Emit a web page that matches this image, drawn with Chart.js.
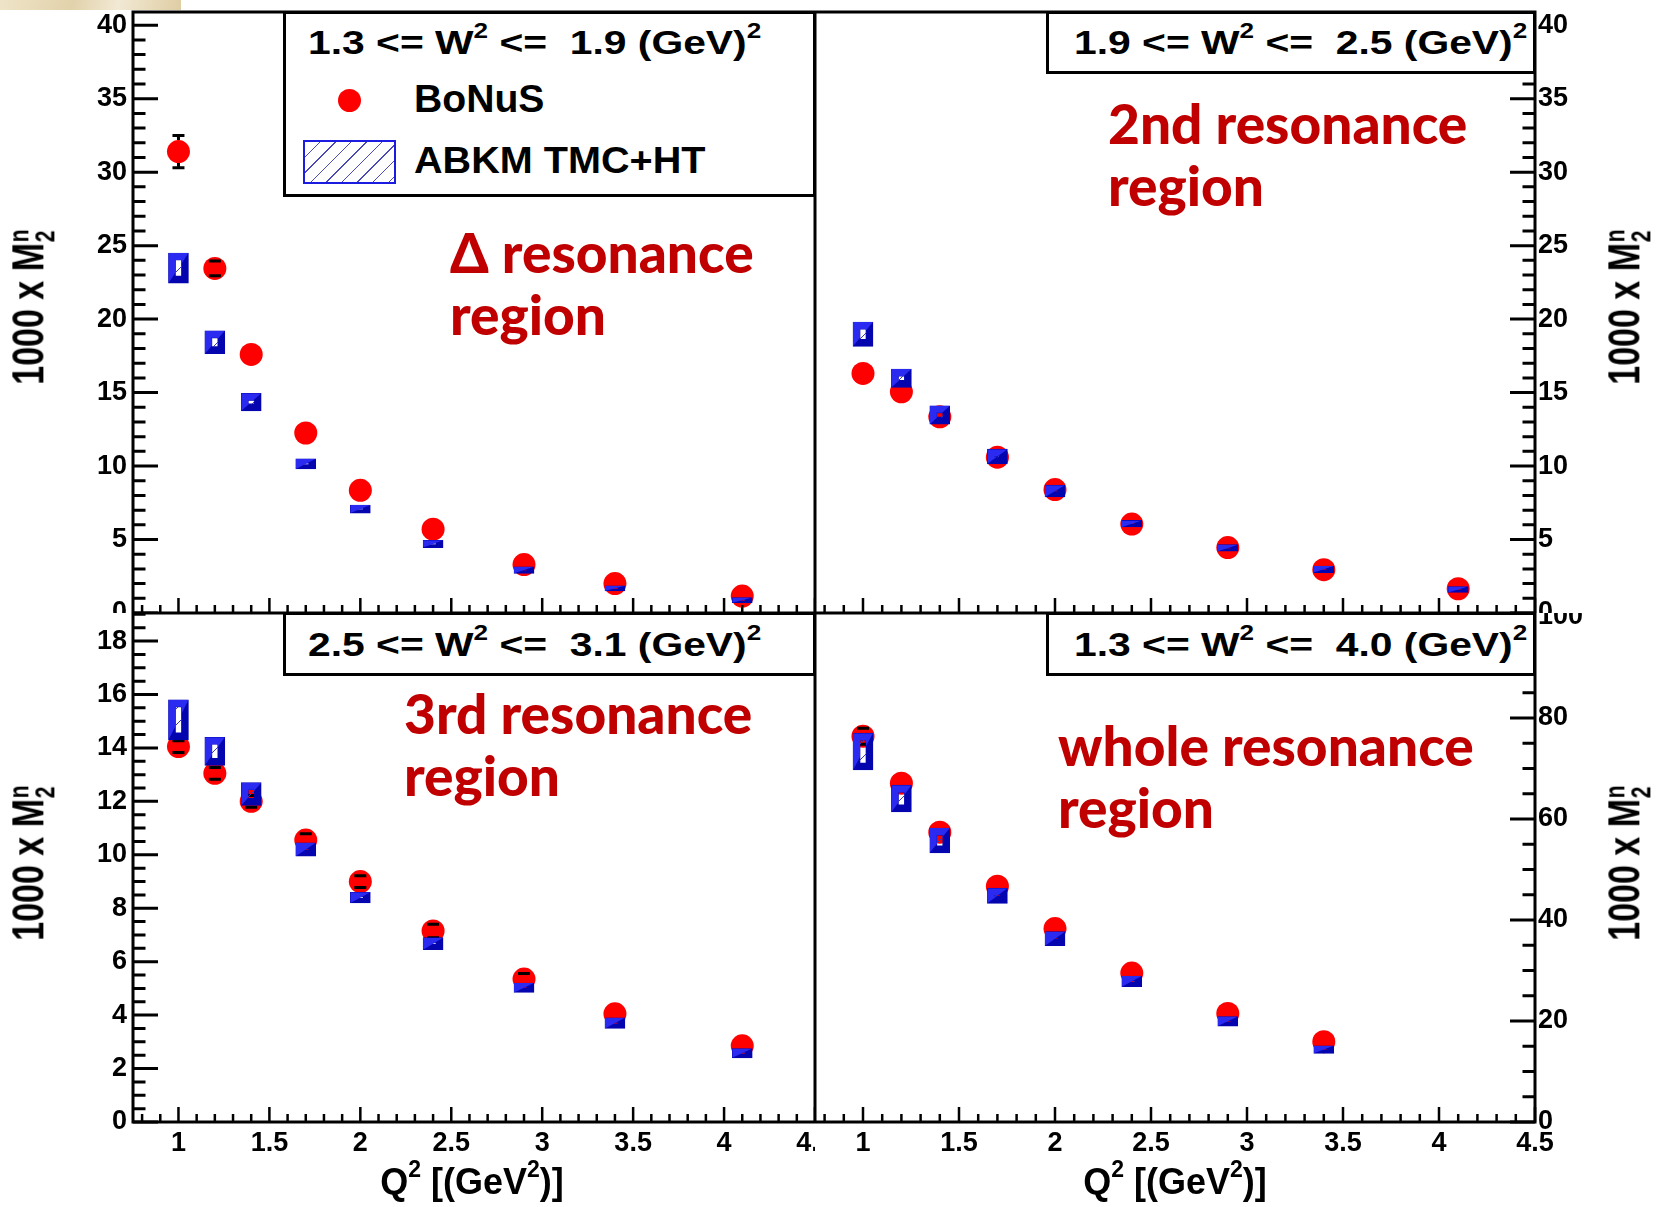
<!DOCTYPE html>
<html>
<head>
<meta charset="utf-8">
<title>BoNuS neutron M2 moments vs Q2</title>
<script src="https://cdn.jsdelivr.net/npm/chart.js@4.4.1/dist/chart.umd.min.js"></script>
<style>
  html, body { margin: 0; padding: 0; background: #fff; }
  #page { position: relative; width: 1659px; height: 1207px; overflow: hidden; background: #fff; }
  canvas { position: absolute; }
  .deco { position: absolute; left: 0; top: 0; width: 181px; height: 10px;
          background: linear-gradient(100deg, #efe4c8 0%, #e2d2ab 40%, #f2e9d4 65%, #dfcda3 100%); }
  .pave { position: absolute; box-sizing: border-box; border: 3px solid #000; background: #fff; }
  .root { position: absolute; font-family: "Liberation Sans", Arial, sans-serif; font-weight: bold;
          color: #000; white-space: pre; line-height: 1; transform-origin: 0 0; }
  .root sup { font-size: 0.64em; vertical-align: 0.72em; line-height: 0; }
  .region { position: absolute; font-family: Lato, "Open Sans", sans-serif; font-weight: 900;
            color: #c00000; font-size: 55px; line-height: 62px; white-space: pre; }
  .ytitle { position: absolute; font-family: "Liberation Sans", Arial, sans-serif; font-weight: bold;
            font-size: 34px; line-height: 1; white-space: pre; color: #000;
            transform: translate(-50%, -50%) rotate(-90deg) scaleY(1.3); }
  .subsup { display: inline-block; font-size: 0.62em; line-height: 0.95; vertical-align: -0.38em; margin-left: 0.04em; }
  .subsup span { display: block; }
  .xtitle { transform: translateX(-50%); font-size: 36px; }
  .mark { position: absolute; width: 23px; height: 23px; border-radius: 50%; background: #ff0000; }
  .band { position: absolute; box-sizing: border-box; border: 2px solid #1c1ce0; background-color: #fff;
          background-image: repeating-linear-gradient(135deg, transparent 0 10px, #4a4ab4 10px 11px); }
</style>
</head>
<body>
<div id="page">
  <div class="deco"></div>

  <canvas id="padDelta" width="815" height="613" style="left:0;top:0"></canvas>
  <canvas id="padSecond" width="844" height="613" style="left:815px;top:0"></canvas>
  <canvas id="padThird" width="815" height="594" style="left:0;top:613px"></canvas>
  <canvas id="padWhole" width="844" height="594" style="left:815px;top:613px"></canvas>

  <!-- W^2 range boxes and legend -->
  <div class="pave" style="left:283px;top:11px;width:533px;height:186px"></div>
  <div class="pave" style="left:1046px;top:11px;width:490px;height:63px"></div>
  <div class="pave" style="left:283px;top:612px;width:533px;height:64px"></div>
  <div class="pave" style="left:1046px;top:612px;width:490px;height:64px"></div>

  <div class="root" style="left:308px;top:25px;font-size:34px;transform:scaleX(1.2)">1.3 &lt;= W<sup>2</sup> &lt;=  1.9 (GeV)<sup>2</sup></div>
  <div class="root" style="left:1074px;top:25px;font-size:34px;transform:scaleX(1.2)">1.9 &lt;= W<sup>2</sup> &lt;=  2.5 (GeV)<sup>2</sup></div>
  <div class="root" style="left:308px;top:627px;font-size:34px;transform:scaleX(1.2)">2.5 &lt;= W<sup>2</sup> &lt;=  3.1 (GeV)<sup>2</sup></div>
  <div class="root" style="left:1074px;top:627px;font-size:34px;transform:scaleX(1.2)">1.3 &lt;= W<sup>2</sup> &lt;=  4.0 (GeV)<sup>2</sup></div>

  <div class="mark" style="left:338px;top:89px"></div>
  <div class="root" style="left:414px;top:80px;font-size:38px;transform:scaleX(1.03)">BoNuS</div>
  <div class="band" style="left:303px;top:140px;width:93px;height:44px"></div>
  <div class="root" style="left:414px;top:143px;font-size:36px;transform:scaleX(1.1)">ABKM TMC+HT</div>

  <!-- resonance region labels -->
  <div class="region" style="left:450px;top:221px">&#916; resonance<br>region</div>
  <div class="region" style="left:1108px;top:92px">2nd resonance<br>region</div>
  <div class="region" style="left:404px;top:682px">3rd resonance<br>region</div>
  <div class="region" style="left:1058px;top:714px">whole resonance<br>region</div>

  <!-- axis titles -->
  <div class="ytitle" style="left:32px;top:307px">1000 x M<span class="subsup"><span>n</span><span>2</span></span></div>
  <div class="ytitle" style="left:1628px;top:307px">1000 x M<span class="subsup"><span>n</span><span>2</span></span></div>
  <div class="ytitle" style="left:32px;top:863px">1000 x M<span class="subsup"><span>n</span><span>2</span></span></div>
  <div class="ytitle" style="left:1628px;top:863px">1000 x M<span class="subsup"><span>n</span><span>2</span></span></div>
  <div class="root xtitle" style="left:472px;top:1164px">Q<sup>2</sup> [(GeV<sup>2</sup>)]</div>
  <div class="root xtitle" style="left:1175px;top:1164px">Q<sup>2</sup> [(GeV<sup>2</sup>)]</div>
</div>

<script>
// Q^2 bin centres, GeV^2
const q2Bins = [1.0, 1.2, 1.4, 1.7, 2.0, 2.4, 2.9, 3.4, 4.1];
const q2BinsWhole = [1.0, 1.2, 1.4, 1.7, 2.0, 2.4, 2.9, 3.4];

// 1000 x M2n, Delta region (1.3 <= W2 <= 1.9)
const bonusDelta = [31.4, 23.45, 17.6, 12.25, 8.35, 5.7, 3.3, 2.0, 1.15];
const bonusDeltaErr = [1.1, 0.5, 0, 0, 0, 0, 0, 0, 0];
const abkmDeltaLow = [22.45, 17.65, 13.75, 9.8, 6.8, 4.45, 2.7, 1.5, 0.7];
const abkmDeltaHigh = [24.5, 19.2, 14.95, 10.5, 7.35, 4.95, 3.15, 1.85, 1.05];

// 2nd resonance region (1.9 <= W2 <= 2.5)
const bonusSecond = [16.3, 15.05, 13.35, 10.6, 8.4, 6.05, 4.45, 2.95, 1.65];
const bonusSecondErr = [0, 0, 0, 0, 0, 0, 0, 0, 0];
const abkmSecondLow = [18.15, 15.35, 12.85, 10.15, 7.9, 5.85, 4.2, 2.75, 1.4];
const abkmSecondHigh = [19.8, 16.6, 14.1, 11.15, 8.7, 6.3, 4.65, 3.2, 1.8];

// 3rd resonance region (2.5 <= W2 <= 3.1)
const bonusThird = [14.05, 13.05, 12.0, 10.55, 9.0, 7.15, 5.35, 4.05, 2.85];
const bonusThirdErr = [0.22, 0.22, 0.22, 0.24, 0.22, 0.25, 0.21, 0, 0];
const abkmThirdLow = [14.3, 13.35, 11.85, 9.95, 8.2, 6.45, 4.85, 3.5, 2.4];
const abkmThirdHigh = [15.8, 14.4, 12.7, 10.45, 8.6, 6.9, 5.2, 3.9, 2.75];

// whole resonance region (1.3 <= W2 <= 4.0)
const bonusWhole = [76.4, 67.1, 57.4, 46.7, 38.3, 29.5, 21.5, 15.9];
const bonusWholeErr = [1.6, 0, 0, 0, 0, 0, 0, 0];
const abkmWholeLow = [69.7, 61.4, 53.3, 43.3, 34.9, 26.8, 19.0, 13.6];
const abkmWholeHigh = [77.0, 66.7, 58.2, 46.3, 37.7, 28.9, 20.9, 15.1];

// axis tick labels
const xTickValues = [1, 1.5, 2, 2.5, 3, 3.5, 4, 4.5];
const yTicksResonance = [0, 5, 10, 15, 20, 25, 30, 35, 40];
const yTicksThird = [0, 2, 4, 6, 8, 10, 12, 14, 16, 18];
const yTicksWhole = [0, 20, 40, 60, 80, 100];

const LIGHT_BLUE = '#2a2af0';
const DARK_BLUE = '#0505b0';
const BAND_FRAME = 7;
const TICK_FONT = { family: 'Liberation Sans', size: 27, weight: 'bold' };

function eachTick(min, max, minor, major, fn) {
  const first = Math.ceil(min / minor - 1e-6);
  const last = Math.floor(max / minor + 1e-6);
  for (let k = first; k <= last; k++) {
    const v = k * minor;
    const r = v / major;
    fn(v, Math.abs(r - Math.round(r)) < 1e-6);
  }
}

// ROOT style frame with ticks pointing inwards
const rootAxes = {
  id: 'rootAxes',
  afterDraw(chart, args, o) {
    const { ctx, chartArea: a, scales: { x, y } } = chart;
    ctx.save();
    ctx.strokeStyle = '#000';
    ctx.lineWidth = 2.5;
    ctx.beginPath();
    eachTick(x.min, x.max, 0.1, 0.5, (v, major) => {
      const px = x.getPixelForValue(v);
      ctx.moveTo(px, a.bottom);
      ctx.lineTo(px, a.bottom - (major ? 15 : 8));
    });
    ctx.stroke();

    const edge = o.side === 'left' ? a.left : a.right;
    const dir = o.side === 'left' ? 1 : -1;
    ctx.lineWidth = 3;
    ctx.beginPath();
    eachTick(y.min, y.max, o.yMinor, o.yMajor, (v, major) => {
      const py = y.getPixelForValue(v);
      ctx.moveTo(edge, py);
      ctx.lineTo(edge + dir * (major ? 25 : 12.5), py);
    });
    ctx.stroke();

    ctx.strokeRect(a.left, a.top, a.right - a.left, a.bottom - a.top);
    ctx.restore();
  }
};

// vertical error bars with caps on the BoNuS points
const errorBars = {
  id: 'errorBars',
  afterDatasetDraw(chart, args) {
    const ds = chart.data.datasets[args.index];
    if (!ds.errors) return;
    const { ctx, chartArea: a, scales: { y } } = chart;
    const r = ds.pointRadius;
    ctx.save();
    ctx.beginPath();
    ctx.rect(a.left, a.top, a.right - a.left, a.bottom - a.top);
    ctx.clip();
    ctx.strokeStyle = '#000';
    ctx.lineWidth = 3;
    args.meta.data.forEach((pt, i) => {
      const e = ds.errors[i];
      if (!e) return;
      const { x, y: py } = pt.getProps(['x', 'y'], true);
      const v = ds.data[i].y;
      const top = y.getPixelForValue(v + e);
      const bot = y.getPixelForValue(v - e);
      ctx.beginPath();
      if (py - top > r) { ctx.moveTo(x, top); ctx.lineTo(x, py - r); }
      if (bot - py > r) { ctx.moveTo(x, py + r); ctx.lineTo(x, bot); }
      ctx.moveTo(x - 6, top); ctx.lineTo(x + 6, top);
      ctx.moveTo(x - 6, bot); ctx.lineTo(x + 6, bot);
      ctx.stroke();
    });
    ctx.restore();
  }
};

// lighter upper-left half of each band frame
const bevelBands = {
  id: 'bevelBands',
  afterDatasetDraw(chart, args) {
    if (args.meta.type !== 'bar') return;
    const { ctx, chartArea: a } = chart;
    ctx.save();
    ctx.beginPath();
    ctx.rect(a.left, a.top, a.right - a.left, a.bottom - a.top);
    ctx.clip();
    args.meta.data.forEach(bar => {
      const { x, y, base, width } = bar.getProps(['x', 'y', 'base', 'width'], true);
      const l = x - width / 2, r = x + width / 2;
      const t = Math.min(y, base), b = Math.max(y, base);
      const bw = Math.min(BAND_FRAME, width / 2, (b - t) / 2);
      ctx.save();
      ctx.beginPath();
      ctx.rect(l, t, r - l, b - t);
      ctx.rect(l + bw, t + bw, r - l - 2 * bw, b - t - 2 * bw);
      ctx.clip('evenodd');
      ctx.beginPath();
      ctx.moveTo(l, t);
      ctx.lineTo(r, t);
      ctx.lineTo(l, b);
      ctx.closePath();
      ctx.fillStyle = LIGHT_BLUE;
      ctx.fill();
      ctx.restore();
    });
    ctx.restore();
  }
};

function makeHatch() {
  const c = document.createElement('canvas');
  c.width = 16;
  c.height = 16;
  const g = c.getContext('2d');
  g.strokeStyle = '#3a3ab8';
  g.lineWidth = 1;
  g.beginPath();
  g.moveTo(0, 16); g.lineTo(16, 0);
  g.moveTo(-4, 4); g.lineTo(4, -4);
  g.moveTo(12, 20); g.lineTo(20, 12);
  g.stroke();
  return g.createPattern(c, 'repeat');
}

function buildPanel(p) {
  const hatch = makeHatch();
  return new Chart(document.getElementById(p.canvas), {
    type: 'scatter',
    data: {
      datasets: [
        {
          type: 'bar',
          label: 'ABKM TMC+HT',
          data: p.x.map((q, i) => ({ x: q, y: [p.low[i], p.high[i]] })),
          backgroundColor: hatch,
          borderColor: DARK_BLUE,
          borderWidth: BAND_FRAME,
          borderSkipped: false,
          barThickness: 20
        },
        {
          type: 'scatter',
          label: 'BoNuS',
          data: p.x.map((q, i) => ({ x: q, y: p.bonus[i] })),
          errors: p.err,
          pointRadius: 11.5,
          pointHoverRadius: 11.5,
          backgroundColor: '#ff0000',
          borderWidth: 0
        }
      ]
    },
    options: {
      responsive: false,
      animation: false,
      events: [],
      layout: { autoPadding: false, padding: { left: 0, right: 0, top: p.padTop, bottom: 0 } },
      plugins: {
        legend: { display: false },
        tooltip: { enabled: false },
        rootAxes: { side: p.side, yMinor: p.yMinor, yMajor: p.yMajor }
      },
      scales: {
        x: {
          type: 'linear',
          offset: false,
          min: 0.75,
          max: 4.5,
          grid: { display: false, drawTicks: false, offset: false },
          border: { display: false },
          ticks: { display: p.showX, font: TICK_FONT, color: '#000', padding: 5,
                   autoSkip: false, maxRotation: 0, minRotation: 0, callback: v => String(v) },
          afterBuildTicks: s => { s.ticks = xTickValues.map(v => ({ value: v })); },
          afterFit: s => { s.height = p.xHeight; s.paddingLeft = 0; s.paddingRight = 0; }
        },
        y: {
          type: 'linear',
          position: p.side,
          offset: false,
          min: 0,
          max: p.yMax,
          grid: { display: false, drawTicks: false },
          border: { display: false },
          ticks: { font: TICK_FONT, color: '#000', padding: p.side === 'left' ? 6 : 3,
                   autoSkip: false, callback: v => String(v) },
          afterBuildTicks: s => { s.ticks = p.yTicks.map(v => ({ value: v })); },
          afterFit: s => { s.width = p.axisWidth; s.paddingTop = 0; s.paddingBottom = 0; }
        }
      }
    },
    plugins: [rootAxes, errorBars, bevelBands]
  });
}

buildPanel({ canvas: 'padDelta', x: q2Bins, bonus: bonusDelta, err: bonusDeltaErr,
             low: abkmDeltaLow, high: abkmDeltaHigh, yMax: 40.9, yTicks: yTicksResonance,
             yMinor: 1, yMajor: 5, side: 'left', axisWidth: 133, xHeight: 0, showX: false, padTop: 12 });
buildPanel({ canvas: 'padSecond', x: q2Bins, bonus: bonusSecond, err: bonusSecondErr,
             low: abkmSecondLow, high: abkmSecondHigh, yMax: 40.9, yTicks: yTicksResonance,
             yMinor: 1, yMajor: 5, side: 'right', axisWidth: 124, xHeight: 0, showX: false, padTop: 12 });
buildPanel({ canvas: 'padThird', x: q2Bins, bonus: bonusThird, err: bonusThirdErr,
             low: abkmThirdLow, high: abkmThirdHigh, yMax: 19.05, yTicks: yTicksThird,
             yMinor: 0.5, yMajor: 2, side: 'left', axisWidth: 133, xHeight: 85, showX: true, padTop: 0 });
buildPanel({ canvas: 'padWhole', x: q2BinsWhole, bonus: bonusWhole, err: bonusWholeErr,
             low: abkmWholeLow, high: abkmWholeHigh, yMax: 100.8, yTicks: yTicksWhole,
             yMinor: 5, yMajor: 20, side: 'right', axisWidth: 124, xHeight: 85, showX: true, padTop: 0 });
</script>
</body>
</html>
